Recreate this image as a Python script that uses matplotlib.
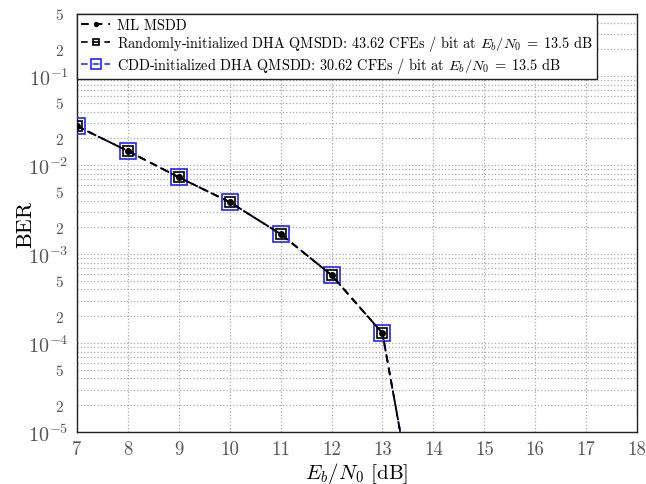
import matplotlib
matplotlib.use("Agg")
import matplotlib.pyplot as plt
from matplotlib.ticker import LogLocator, FuncFormatter, FixedLocator
import numpy as np

plt.rcParams['font.family'] = 'serif'
plt.rcParams['font.serif'] = ['cmr10']
plt.rcParams['mathtext.fontset'] = 'cm'
plt.rcParams['axes.unicode_minus'] = False
plt.rcParams['axes.formatter.use_mathtext'] = True

snr = [7, 8, 9, 10, 11, 12, 13, 13.5]
ml_msdd = [2.74e-2, 1.44e-2, 7.3e-3, 3.84e-3, 1.68e-3, 5.8e-4, 1.29e-4, 3.3e-6]
rand_dha = [2.74e-2, 1.44e-2, 7.3e-3, 3.84e-3, 1.68e-3, 5.8e-4, 1.29e-4, 3.3e-6]
cdd_dha = [2.74e-2, 1.44e-2, 7.3e-3, 3.84e-3, 1.68e-3, 5.8e-4, 1.29e-4, 3.3e-6]

labels = ['ML MSDD',
          r'Randomly-initialized DHA QMSDD: 43.62 CFEs / bit at $E_b/N_0\;=\;13.5$ dB',
          r'CDD-initialized DHA QMSDD: 30.62 CFEs / bit at $E_b/N_0\;=\;13.5$ dB']

tick_col = '#555555'

fig = plt.figure(figsize=(6.46, 4.85), dpi=100)
ax = fig.add_axes([77/646, 1 - 433/485, (637-77)/646, (433-15)/485])

ax.plot(snr, cdd_dha, linestyle=(0, (4, 3)), color='#3333ff', lw=1.2,
        marker='s', markersize=11, markerfacecolor='none', markeredgecolor='#2222ff',
        markeredgewidth=1.2, label=labels[2], zorder=3)
ax.plot(snr, rand_dha, linestyle=(0, (4, 3)), color='black', lw=1.2,
        marker='s', markersize=7, markerfacecolor='none', markeredgecolor='black',
        markeredgewidth=1.2, label=labels[1], zorder=4)
ax.plot(snr, ml_msdd, linestyle=(0, (4, 3)), color='black', lw=1.4,
        marker='o', markersize=4, markerfacecolor='black', markeredgecolor='black',
        label=labels[0], zorder=5)

ax.set_yscale('log')
ax.set_xlim(7, 18)
ax.set_ylim(1e-5, 5e-1)
ax.set_xticks(range(7, 19))
ax.set_xticklabels([str(v) for v in range(7, 19)])
ax.yaxis.set_major_locator(FixedLocator([1e-5, 1e-4, 1e-3, 1e-2, 1e-1]))
ax.yaxis.set_major_formatter(FuncFormatter(lambda v, p: r'$10^{%d}$' % int(round(np.log10(v)))))
ax.yaxis.set_minor_locator(LogLocator(base=10, subs=np.arange(2, 10), numticks=20))

def minor_fmt(v, p):
    m = v / 10 ** np.floor(np.log10(v) + 1e-9)
    if abs(m - 2) < 0.01:
        return '2'
    if abs(m - 5) < 0.01:
        return '5'
    return ''
ax.yaxis.set_minor_formatter(FuncFormatter(minor_fmt))

ax.tick_params(axis='x', which='major', labelsize=13.5, length=0, pad=6, labelcolor=tick_col)
ax.tick_params(axis='y', which='major', labelsize=14.5, length=0, pad=6, labelcolor=tick_col)
ax.tick_params(axis='y', which='minor', labelsize=11, length=0, pad=10, labelcolor=tick_col)

ax.grid(True, which='major', linestyle=':', color='#aaaaaa', lw=0.9)
ax.grid(True, which='minor', axis='y', linestyle=':', color='#aaaaaa', lw=0.9)

for s in ax.spines.values():
    s.set_linewidth(1.0)
    s.set_color('#222222')

ax.set_xlabel(r'$E_b/N_0$ [dB]', fontsize=15)
ax.xaxis.set_label_coords(0.5, -0.097)
ax.xaxis.label.set_va('center')
ax.set_ylabel('BER', fontsize=16)
ax.yaxis.set_label_coords(-0.092, 0.5)
ax.yaxis.label.set_va('center')

h, l = ax.get_legend_handles_labels()
order = [2, 1, 0]
leg = ax.legend([h[i] for i in order], [l[i] for i in order], loc='upper left',
                fontsize=10.3, fancybox=False, edgecolor='#222222', framealpha=1,
                borderaxespad=0, handlelength=2.0, handletextpad=0.5,
                labelspacing=0.1, borderpad=0.3, markerscale=0.7)
leg.get_frame().set_linewidth(1.0)

fig.savefig('out.png', dpi=100)
